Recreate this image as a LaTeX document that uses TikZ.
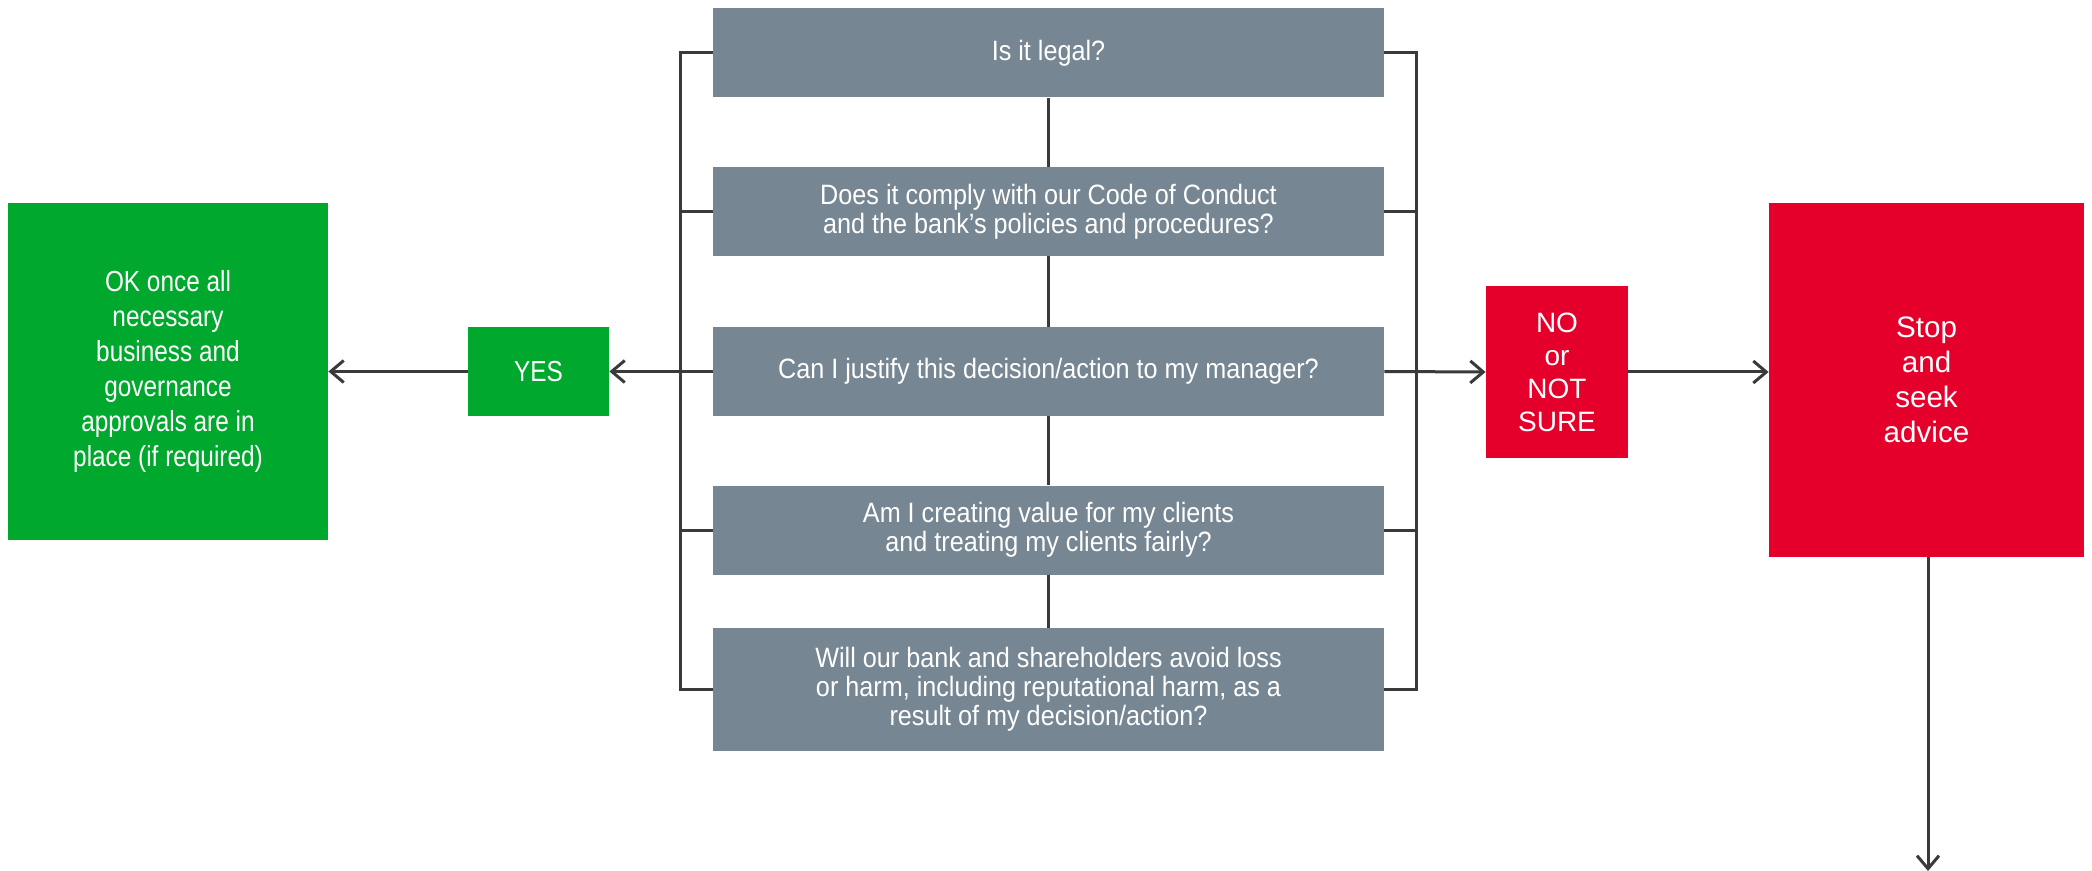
\documentclass[tikz,border=0pt]{standalone}
\usepackage{fontspec}
\setmainfont{Liberation Sans}
\newfontfamily\narrowfont[FakeStretch=0.84]{Liberation Sans}
\newfontfamily\qfont[FakeStretch=0.9]{Liberation Sans}
\usetikzlibrary{positioning}
\usetikzlibrary{arrows.meta}
\usepackage{xcolor}
\definecolor{qgray}{HTML}{768692}
\definecolor{okgreen}{HTML}{00A82D}
\definecolor{stopred}{HTML}{E4002B}
\definecolor{linegray}{HTML}{3A3A3A}

\begin{document}
\begin{tikzpicture}[x=0.5pt, y=-0.5pt,
  qbox/.style={fill=qgray, text=white, inner sep=0pt, align=center,
    minimum width=335.5pt, minimum height=44.5pt,
    font=\qfont\fontsize{14}{14.6}\selectfont},
  greenbox/.style={fill=okgreen, text=white, inner sep=0pt, align=center,
    font=\narrowfont\fontsize{14.5}{17.5}\selectfont},
  redbox/.style={fill=stopred, text=white, inner sep=0pt, align=center,
    font=\fontsize{14}{16.5}\selectfont},
  link/.style={linegray, line width=1.5pt},
  arr/.style={link, -{Straight Barb[length=6.5pt, width=11pt, line width=1.5pt]}}]

\useasboundingbox (0,0) rectangle (2092,871);

% questions
{
\node[qbox] (q1) at (1048.5,53) {Is it legal?};
\node[qbox] (q2) at (1048.5,211.5) {Does it comply with our Code of Conduct\\and the bank’s policies and procedures?};
\node[qbox] (q3) at (1048.5,371.5) {Can I justify this decision/action to my manager?};
\node[qbox] (q4) at (1048.5,530) {Am I creating value for my clients\\and treating my clients fairly?};
\node[qbox, minimum height=61.5pt] (q5) at (1048.5,689.5) {Will our bank and shareholders avoid loss\\or harm, including reputational harm, as a\\result of my decision/action?};
}

% answers
{
\node[greenbox, minimum width=70.5pt, minimum height=44.5pt] (yes) at (538.5,371.5) {YES};
\node[greenbox, minimum width=160pt, minimum height=168.5pt] (ok) at (168,371.5) {OK once all\\necessary\\business and\\governance\\approvals are in\\place (if required)};
\node[redbox, minimum width=71pt, minimum height=86pt] (no) at (1557,372) {NO\\or\\NOT\\SURE};
\node[redbox, minimum width=157.5pt, minimum height=177pt, font=\fontsize{14.8}{17.5}\selectfont] (stop) at (1926.5,380) {Stop\\and\\seek\\advice};
}

\coordinate (lb) at (680,0);
\coordinate (rb) at (1416,0);
\coordinate (down) at (1928,871);

% black lines
{
\foreach \a/\b in {q1/q2, q2/q3, q3/q4, q4/q5}
  \draw[link] (\a.south) -- (\b.north);

\draw[link] (q1.west) -- (q1.west -| lb) -- (q5.west -| lb) -- (q5.west);
\draw[link] (q1.east) -- (q1.east -| rb) -- (q5.east -| rb) -- (q5.east);
\foreach \q in {q2, q4}{
  \draw[link] (\q.west) -- (\q.west -| lb);
  \draw[link] (\q.east) -- (\q.east -| rb);
}
}

% arrows
{
\draw[arr] (q3.west) -- (yes.east);
\draw[arr] (yes.west) -- (ok.east);
\draw[arr] (q3.east) -- (no.west);
\draw[arr] (no.east) -- (no.east -| stop.west);
\draw[arr] (stop.south -| down) -- (down);
}

\end{tikzpicture}
\end{document}
